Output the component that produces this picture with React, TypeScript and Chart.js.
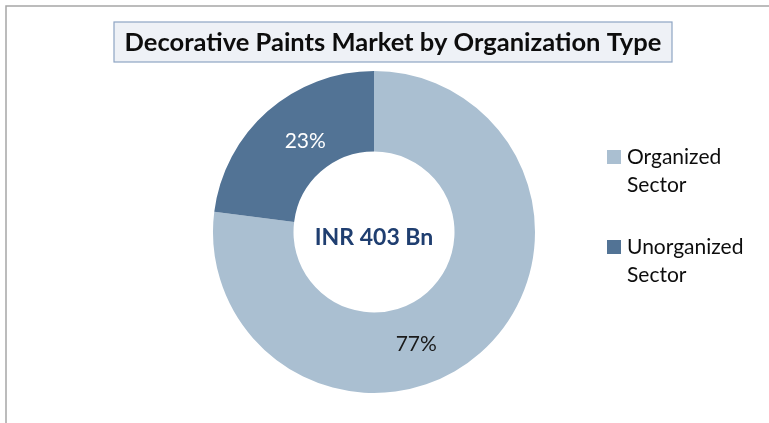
import React, { useEffect, useRef } from "react";
import { Chart, registerables } from "chart.js";

Chart.register(...registerables);

const titleText = "Decorative Paints Market by Organization Type";
const centerText = "INR 403 Bn";
const categories = ["Organized Sector", "Unorganized Sector"];
const legendLines = [["Organized", "Sector"], ["Unorganized", "Sector"]];
const shares = [77, 23];
const colors = ["#aabfd1", "#527395"];
const labelColors = ["#1a1a1a", "#ffffff"];

const FONT = "Lato, 'Open Sans', sans-serif";

const decorPlugin = {
  id: "decor",
  beforeDraw(chart: any) {
    const ctx = chart.ctx;
    ctx.save();
    // outer frame
    ctx.strokeStyle = "#a6a6a6";
    ctx.lineWidth = 1.5;
    ctx.beginPath();
    ctx.moveTo(6, 430);
    ctx.lineTo(6, 6);
    ctx.lineTo(780, 6);
    ctx.stroke();
    // title box
    ctx.fillStyle = "#eef1f6";
    ctx.fillRect(114, 22, 558, 40);
    ctx.strokeStyle = "#8ea5c4";
    ctx.lineWidth = 1.2;
    ctx.strokeRect(114, 22, 558, 40);
    ctx.fillStyle = "#0d0d0d";
    ctx.font = `bold 25.5px ${FONT}`;
    ctx.textAlign = "center";
    ctx.textBaseline = "middle";
    ctx.fillText(titleText, 393, 43);
    ctx.restore();
  },
  afterDraw(chart: any) {
    const ctx = chart.ctx;
    const meta = chart.getDatasetMeta(0);
    const fracs = [0.575, 0.55];
    const rads = [0.49, 0.41];
    ctx.save();
    ctx.textAlign = "center";
    ctx.textBaseline = "middle";
    meta.data.forEach((arc: any, i: number) => {
      const p = arc.getProps(["x", "y", "startAngle", "endAngle", "innerRadius", "outerRadius"], true);
      const a = p.startAngle + (p.endAngle - p.startAngle) * fracs[i];
      const r = p.innerRadius + (p.outerRadius - p.innerRadius) * rads[i];
      ctx.fillStyle = labelColors[i];
      ctx.font = `21px ${FONT}`;
      ctx.fillText(`${shares[i]}%`, p.x + Math.cos(a) * r, p.y + Math.sin(a) * r);
    });
    const c = meta.data[0];
    ctx.fillStyle = "#1f3e70";
    ctx.font = `bold 23px ${FONT}`;
    ctx.fillText(centerText, c.x, c.y + 6);
    // legend
    const ys = [157, 247];
    ctx.textAlign = "left";
    ctx.font = `21px ${FONT}`;
    legendLines.forEach((lines, i) => {
      ctx.fillStyle = colors[i];
      ctx.fillRect(607, ys[i] - 7, 14, 14);
      ctx.fillStyle = "#0d0d0d";
      lines.forEach((t, j) => ctx.fillText(t, 627, ys[i] + j * 28));
    });
    ctx.restore();
  },
};

export default function App() {
  const ref = useRef<HTMLCanvasElement>(null);
  useEffect(() => {
    document.body.style.margin = "0";
    const chart = new Chart(ref.current!, {
      type: "doughnut",
      data: {
        labels: categories,
        datasets: [{ data: shares, backgroundColor: colors, borderWidth: 0 }],
      },
      options: {
        animation: false,
        responsive: false,
        cutout: "50%",
        layout: { padding: { left: 213, right: 234, top: 71, bottom: 30 } },
        plugins: { legend: { display: false }, tooltip: { enabled: false }, title: { display: false } },
      },
      plugins: [decorPlugin],
    });
    return () => chart.destroy();
  }, []);
  return (
    <div style={{ width: 769, height: 423, background: "#fff" }}>
      <canvas ref={ref} width={769} height={423} style={{ display: "block", width: 769, height: 423 }} />
    </div>
  );
}
